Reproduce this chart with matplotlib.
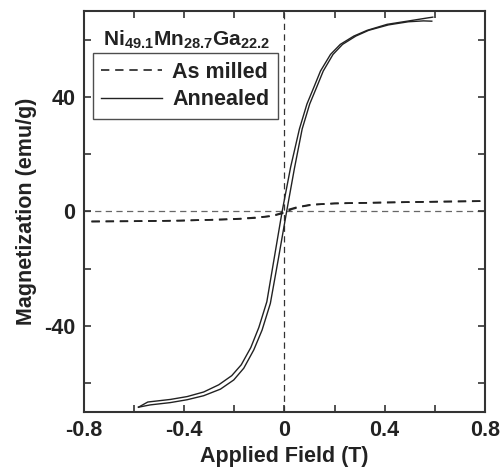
import numpy as np
import matplotlib.pyplot as plt
from matplotlib.ticker import MultipleLocator

plt.rcParams['font.family'] = ['Liberation Sans', 'DejaVu Sans']
plt.rcParams['font.weight'] = 'bold'
plt.rcParams['axes.labelweight'] = 'bold'
plt.rcParams['mathtext.fontset'] = 'custom'
plt.rcParams['mathtext.rm'] = 'Liberation Sans:bold'
plt.rcParams['mathtext.bf'] = 'Liberation Sans:bold'
plt.rcParams['mathtext.default'] = 'rm'

INK = '#222222'
FS = 15.5

# annealed sample: descending field branch
ann_down_H = [0.592, 0.576, 0.49, 0.41, 0.33, 0.277, 0.223, 0.184, 0.144, 0.117,
              0.09, 0.06, 0.025, -0.009, -0.04, -0.07, -0.102, -0.134, -0.172,
              -0.21, -0.262, -0.322, -0.388, -0.455, -0.545, -0.582]
ann_down_M = [67.8, 67.6, 66.4, 65.3, 63.2, 61.2, 58.3, 54.8, 49.0, 43.2,
              37.5, 28.8, 15.5, 0.0, -16.0, -31.5, -40.5, -47.5, -53.5,
              -57.3, -60.5, -63.0, -64.6, -65.6, -66.5, -68.3]
# annealed sample: ascending field branch
ann_up_H = [-0.582, -0.535, -0.455, -0.388, -0.322, -0.255, -0.202, -0.162, -0.122,
            -0.089, -0.056, -0.025, 0.009, 0.04, 0.071, 0.101, 0.128, 0.155,
            0.194, 0.232, 0.285, 0.336, 0.415, 0.495, 0.555, 0.588]
ann_up_M = [-68.3, -67.5, -66.7, -65.7, -64.3, -62.0, -58.8, -54.7, -48.3,
            -41.4, -32.1, -17.0, 0.0, 15.0, 28.8, 37.5, 43.2, 49.0,
            54.8, 58.3, 61.2, 63.2, 65.1, 66.2, 66.5, 66.4]

# as-milled sample
mil_up_H = [-0.77, -0.6, -0.415, -0.25, -0.176, -0.1, -0.044, 0.0, 0.03, 0.07,
            0.117, 0.2, 0.383, 0.6, 0.782]
mil_up_M = [-3.5, -3.4, -3.2, -2.8, -2.5, -2.0, -1.5, -0.5, 0.8, 1.7,
            2.4, 2.8, 3.1, 3.4, 3.6]
mil_down_H = [0.782, 0.6, 0.383, 0.2, 0.1, 0.05, 0.01, -0.02, -0.06, -0.12,
              -0.2, -0.415, -0.6, -0.77]
mil_down_M = [3.6, 3.4, 3.1, 2.8, 2.3, 1.5, 0.5, -0.8, -1.7, -2.3,
              -2.7, -3.2, -3.4, -3.5]

fig = plt.figure(figsize=(5.02, 4.72), dpi=100)
ax = fig.add_axes([0.167, 0.127, 0.799, 0.850])

dash = (0, (5, 3.5))
ax.axhline(0, color='#666666', lw=0.9, ls=dash, zorder=1)
ax.axvline(0, color='#333333', lw=0.9, ls=dash, zorder=1)

ax.plot(mil_up_H, mil_up_M, color=INK, lw=1.2, ls=dash, label='As milled')
ax.plot(mil_down_H, mil_down_M, color=INK, lw=1.2, ls=dash)
ax.plot(ann_down_H, ann_down_M, color=INK, lw=1.0, label='Annealed')
ax.plot(ann_up_H, ann_up_M, color=INK, lw=1.0)

ax.set_xlim(-0.8, 0.8)
ax.set_ylim(-70, 70)
ax.xaxis.set_major_locator(MultipleLocator(0.4))
ax.xaxis.set_minor_locator(MultipleLocator(0.2))
ax.yaxis.set_major_locator(MultipleLocator(40))
ax.yaxis.set_minor_locator(MultipleLocator(20))
ax.xaxis.set_major_formatter(plt.FuncFormatter(lambda v, p: '0' if abs(v) < 1e-9 else f'{v:.1f}'))
ax.yaxis.set_major_formatter(plt.FuncFormatter(lambda v, p: f'{v:.0f}'))

ax.tick_params(which='both', direction='in', top=True, right=True,
               length=5, width=1.2, color='#333333', labelsize=FS,
               labelcolor=INK, pad=6)
for s in ax.spines.values():
    s.set_linewidth(1.5)
    s.set_color('#333333')

ax.set_xlabel('Applied Field (T)', fontsize=FS, color=INK, labelpad=3)
ax.set_ylabel('Magnetization (emu/g)', fontsize=FS, color=INK, labelpad=5)

ax.text(0.257, 0.928, r'Ni$_{49.1}$Mn$_{28.7}$Ga$_{22.2}$', transform=ax.transAxes,
        ha='center', va='center', fontsize=FS - 0.5, color=INK)
leg = ax.legend(loc='upper left', bbox_to_anchor=(0.022, 0.895), fontsize=FS,
                frameon=True, fancybox=False, handlelength=2.8, handletextpad=0.5,
                borderpad=0.4, labelspacing=0.3, borderaxespad=0)
leg.get_frame().set_edgecolor(INK)
leg.get_frame().set_linewidth(1.0)
for t in leg.get_texts():
    t.set_color(INK)

fig.savefig('out.png', dpi=100)
